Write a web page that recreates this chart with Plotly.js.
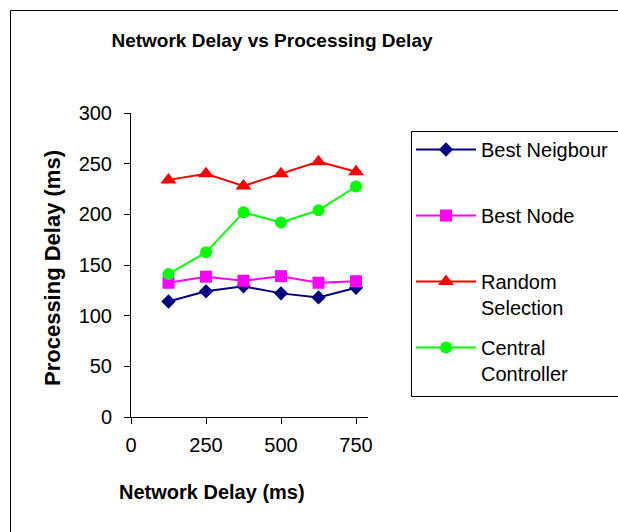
<!DOCTYPE html>
<html>
<head>
<meta charset="utf-8">
<script src="https://cdn.plot.ly/plotly-3.0.1.min.js"></script>
<style>html,body{margin:0;padding:0;background:#fff;}#chart{width:618px;height:532px;}</style>
</head>
<body>
<div id="chart"></div>
<script>
const networkDelay = [125, 250, 375, 500, 625, 750];
const bestNeighbour = [114, 124, 129, 122, 118, 127.5];
const bestNode = [132.5, 138.5, 134.5, 139, 132.5, 134];
const randomSelection = [234, 240, 228, 240, 252, 242];
const centralController = [141, 162.5, 202, 192, 204, 227.5];
const seriesNames = ['Best Neigbour<br> ', 'Best Node<br> ', 'Random<br>Selection', 'Central<br>Controller'];
const xTicks = [0, 250, 500, 750];
const yTicks = [0, 50, 100, 150, 200, 250, 300];

const W = 618, H = 532;
const L = 131, R = 250, T = 113, B = 115;
const pw = W - L - R, ph = H - T - B;
function px(x){ return (x - L) / pw; }
function py(y){ return (H - B - y) / ph; }

function tr(y, name, color, symbol, size){
  return {x: networkDelay, y: y, name: name, type: 'scatter', mode: 'lines+markers',
    legendgroup: name,
    line: {color: color, width: 2},
    marker: {color: color, symbol: symbol, size: size, line: {width: 0}}};
}
const data = [
  tr(bestNeighbour, seriesNames[0], '#000080', 'diamond', 11),
  tr(bestNode, seriesNames[1], '#FF00FF', 'square', 12),
  tr(randomSelection, seriesNames[2], '#FF0000', 'triangle-up', 14),
  tr(centralController, seriesNames[3], '#00FF00', 'circle', 12)
];
const font = 'Arial, "Liberation Sans", sans-serif';
const layout = {
  width: W, height: H,
  margin: {l: L, r: R, t: T, b: B, pad: 0, autoexpand: false},
  paper_bgcolor: '#fff', plot_bgcolor: '#fff',
  font: {family: font, color: '#000', size: 20},
  title: {text: '<b>Network Delay vs Processing Delay</b>', font: {family: font, size: 19, color: '#000'},
    x: 272 / W, xanchor: 'center', y: 1 - 40 / H, yanchor: 'middle'},
  xaxis: {range: [0, 790], tickvals: xTicks, ticktext: xTicks.map(String), showgrid: false, zeroline: false,
    showline: true, linecolor: '#000', linewidth: 1, ticks: 'outside', ticklen: 6, tickcolor: '#000',
    tickfont: {size: 20}, ticklabelstandoff: 4, automargin: false},
  yaxis: {range: [0, 300], tickvals: yTicks, ticktext: yTicks.map(String), showgrid: false, zeroline: false,
    showline: true, linecolor: '#000', linewidth: 1, ticks: 'outside', ticklen: 6, tickcolor: '#000',
    tickfont: {size: 20}, ticklabelstandoff: 8, automargin: false},
  annotations: [
    {text: '<b>Network Delay (ms)</b>', xref: 'paper', yref: 'paper', x: px(212), y: py(492),
      xanchor: 'center', yanchor: 'middle', showarrow: false, font: {size: 20}},
    {text: '<b>Processing Delay (ms)</b>', xref: 'paper', yref: 'paper', x: px(52), y: py(268),
      xanchor: 'center', yanchor: 'middle', showarrow: false, textangle: -90, font: {size: 22}}
  ],
  showlegend: true,
  legend: {x: px(411), xanchor: 'left', y: py(130), yanchor: 'top', bgcolor: 'rgba(0,0,0,0)',
    borderwidth: 0, font: {size: 20}, valign: 'top', traceorder: 'grouped', tracegroupgap: 11, itemwidth: 60},
  shapes: [
    {type: 'rect', xref: 'paper', yref: 'paper', x0: px(10.5), x1: px(640), y0: py(560), y1: py(10.5),
      line: {color: '#000', width: 1}, fillcolor: 'rgba(0,0,0,0)', layer: 'below'},
    {type: 'rect', xref: 'paper', yref: 'paper', x0: px(411.5), x1: px(640), y0: py(396.5), y1: py(131.5),
      line: {color: '#000', width: 1}, fillcolor: 'rgba(0,0,0,0)', layer: 'below'}
  ]
};
Plotly.newPlot('chart', data, layout, {displayModeBar: false, staticPlot: true});
</script>
</body>
</html>
